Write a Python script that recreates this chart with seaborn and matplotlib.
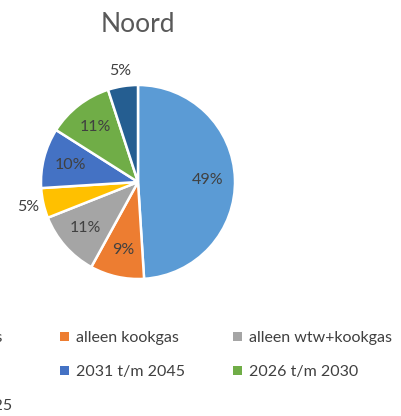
import numpy as np
import matplotlib
matplotlib.use("Agg")
import matplotlib.pyplot as plt
from matplotlib.patches import Patch
import seaborn as sns

# Data
categories = ["alleen aardgas", "alleen kookgas", "alleen wtw+kookgas", "na 2045",
              "2031 t/m 2045", "2026 t/m 2030", "2021 t/m 2025"]
values = [49, 9, 11, 5, 10, 11, 5]
colors = ["#5B9BD5", "#ED7D31", "#A5A5A5", "#FFC000", "#4472C4", "#70AD47", "#255E91"]
title = "Noord"

sns.set_theme(style="white")
plt.rcParams["font.family"] = ["Lato", "DejaVu Sans"]

W, H = 401, 416
fig = plt.figure(figsize=(W / 100, H / 100), dpi=100)
fig.patch.set_facecolor("white")

cx, cy, r = 138, 182, 97
ax = fig.add_axes([(cx - r) / W, 1 - (cy + r) / H, 2 * r / W, 2 * r / H])
palette = sns.color_palette(colors)

wedges, texts, autotexts = ax.pie(
    values, colors=palette, startangle=90, counterclock=False,
    autopct=lambda p: f"{p:.0f}%", pctdistance=0.72,
    wedgeprops=dict(edgecolor="white", linewidth=1.8),
    textprops=dict(color="#404040", fontsize=11.5))
for w, t, v in zip(wedges, autotexts, values):
    if v <= 5:
        ang = np.deg2rad((w.theta1 + w.theta2) / 2)
        t.set_position((1.16 * np.cos(ang), 1.16 * np.sin(ang)))
ax.set_xlim(-1, 1)
ax.set_ylim(-1, 1)
ax.set_aspect("equal")
ax.axis("off")

fig.text(cx / W, 1 - 25 / H, title, ha="center", va="center",
         fontsize=19, color="#595959")

# Legend, row-major like Excel (3 columns)
order = [0, 3, 6, 1, 4, 2, 5]
handles = [Patch(facecolor=colors[i], edgecolor="none") for i in order]
labels = [categories[i] for i in order]
fig.legend(handles, labels, ncol=3, loc="upper left",
           bbox_to_anchor=(-113 / W, 1 - 331 / H), frameon=False,
           borderpad=0, borderaxespad=0, handlelength=0.55, handleheight=0.55,
           handletextpad=0.45, columnspacing=3.0, labelspacing=1.25,
           prop=dict(size=11.5), labelcolor="#404040")

fig.savefig("out.png", dpi=100)
